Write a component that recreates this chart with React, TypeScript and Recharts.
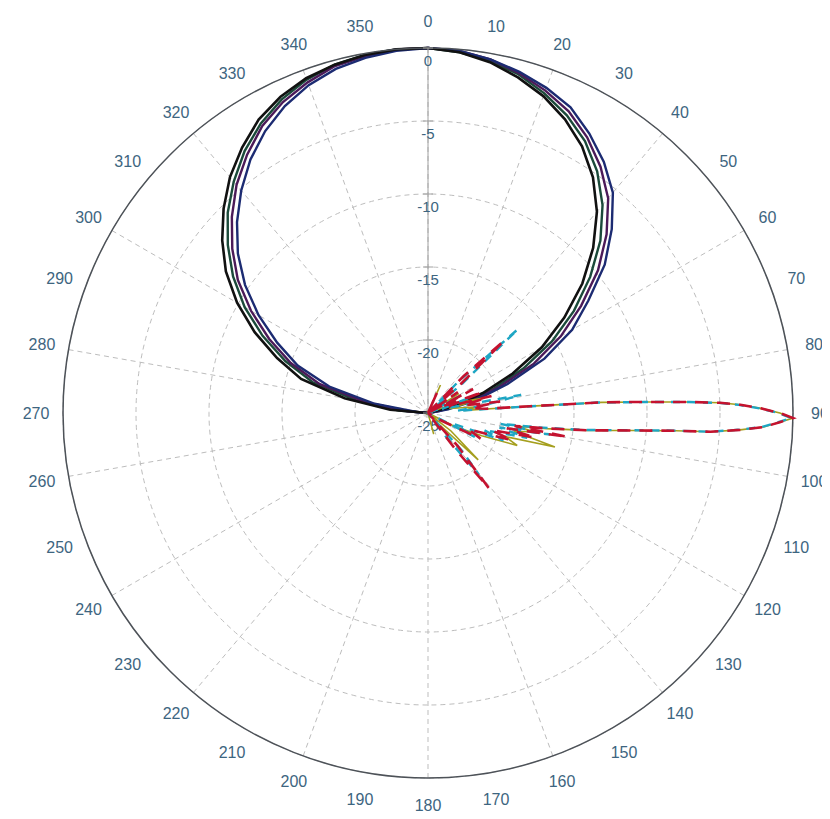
import React from 'react';
import { RadarChart, Radar, PolarGrid, PolarAngleAxis, PolarRadiusAxis } from 'recharts';

// angle labels every 10 deg, grid spokes every 20 deg, gain rings every 5 dB
const angleTicks = [0, 10, 20, 30, 40, 50, 60, 70, 80, 90, 100, 110, 120, 130, 140, 150, 160, 170,
  180, 190, 200, 210, 220, 230, 240, 250, 260, 270, 280, 290, 300, 310, 320, 330, 340, 350];
const spokeAngles = [0, 20, 40, 60, 80, 100, 120, 140, 160, 180, 200, 220, 240, 260, 280, 300, 320, 340];
const gainTicks = [-25, -20, -15, -10, -5, 0];

// broad lobe (dark traces)
const loopAngles = [0, 5, 10, 15, 20, 25, 30, 35, 40, 45, 50, 55, 60, 65, 70, 75, 80, 85,
  270, 275, 280, 285, 290, 295, 300, 305, 310, 315, 320, 325, 330, 335, 340, 345, 350, 355];
const loopBlack = [0, -0.2, -0.6, -1.2, -1.9, -2.8, -3.9, -5.3, -7.0, -9.0, -11.2, -13.6, -16.0, -18.6, -21.0, -23.2, -25, -25,
  -25, -22.4, -19.2, -16.0, -14.0, -11.9, -9.9, -8.1, -6.6, -5.2, -3.9, -2.8, -1.8, -1.1, -0.6, -0.3, -0.1, 0];
const loopNavy = [0, -0.1, -0.4, -0.8, -1.3, -1.9, -2.9, -4.0, -5.3, -7.2, -9.2, -11.6, -13.6, -16.2, -19.2, -21.6, -23.6, -25,
  -25, -24.2, -21.2, -18.0, -15.5, -13.6, -11.6, -9.7, -8.0, -6.5, -5.1, -3.8, -2.7, -1.8, -1.1, -0.6, -0.3, -0.1];
const loopPurple = [0, -0.1, -0.4, -0.9, -1.5, -2.2, -3.2, -4.4, -5.8, -7.7, -9.8, -12.2, -14.5, -17.0, -19.8, -22.2, -24.2, -25,
  -25, -23.6, -20.6, -17.3, -15.0, -13.0, -11.0, -9.1, -7.5, -6.0, -4.6, -3.4, -2.3, -1.5, -0.9, -0.4, -0.2, 0];
const loopGreen = [0, -0.2, -0.5, -1.0, -1.7, -2.5, -3.5, -4.8, -6.4, -8.3, -10.5, -12.8, -15.2, -17.8, -20.3, -22.6, -24.6, -25,
  -25, -23.0, -20.0, -16.8, -14.6, -12.5, -10.5, -8.7, -7.1, -5.6, -4.3, -3.1, -2.1, -1.3, -0.7, -0.3, -0.1, 0];

// narrow beam at 90 deg (olive / cyan / red traces)
const redAngles = [0, 20, 24, 28, 40, 44, 46.5, 48.5, 51, 55, 58, 62, 65, 69, 72, 75, 78, 81, 83.5, 85.8,
  86.2, 86.5, 87.1, 87.6, 88, 88.5, 89.2, 90, 90.8, 91.5, 92.4, 93.1, 93.8, 94.1, 94.9, 96.2, 97.5, 98.5, 99.7, 101,
  103, 105, 108, 112, 116, 120, 125, 135, 138, 141, 143, 146, 180, 270];
const redGain = [-25, -25, -23.5, -25, -25, -21.5, -17.8, -22, -25, -22.5, -25, -21.5, -24, -21, -23.5, -20.5, -22.5, -20, -22, -21,
  -18, -13, -10, -7, -5, -3.6, -2.2, -0.9, 0, -0.9, -2.0, -3.6, -5.6, -8, -11, -14, -17, -19, -15.3, -19.5,
  -17.5, -20.5, -19, -22, -21, -24, -25, -25, -22, -18.4, -22, -25, -25, -25];

const cyanAngles = [0, 40, 44, 47, 49.5, 52, 62, 65, 70, 74, 79, 82, 85.8, 86.2, 86.5, 87.1, 87.6, 88, 88.5, 89.2,
  90, 90.8, 91.5, 92.4, 93.1, 93.8, 94.1, 94.9, 96.2, 97.5, 98.5, 100, 101.5, 104, 107, 110, 113, 117, 120, 135,
  138, 140.5, 143, 146, 180, 270];
const cyanGain = [-25, -25, -22, -16.6, -22, -25, -22.5, -25, -22, -24, -18.5, -21, -23, -18.5, -13.3, -10.2, -7.1, -5.1, -3.7, -2.3,
  -1.0, -0.1, -1.0, -2.1, -3.7, -5.7, -8.1, -11.2, -14.2, -17.5, -20, -16.5, -20, -18, -21, -19.5, -23, -21.4, -25, -25,
  -21.5, -19.5, -23, -25, -25, -25];

const oliveAngles = [0, 20, 24, 28, 55, 58, 61, 70, 75, 78, 83, 85.8, 86.2, 86.5, 87.1, 87.6, 88, 88.5, 89.2, 90,
  90.8, 91.5, 92.4, 93.1, 93.8, 94.1, 94.9, 96.2, 97.5, 98.5, 100, 102, 105, 107, 110, 113, 117, 122, 128, 133,
  136, 140, 160, 165, 170, 270];
const oliveGain = [-25, -25, -22.9, -25, -25, -22.5, -25, -23, -21, -23.5, -21.5, -22.5, -18.2, -13.1, -10.1, -7.0, -5.0, -3.6, -2.2, -0.9,
  0, -0.9, -2.0, -3.6, -5.6, -8, -11, -14, -16.8, -19, -17.5, -19, -16, -19.5, -18.5, -21, -23, -25, -23, -20.3,
  -24, -25, -25, -23.5, -25, -25];

type Line = { key: string; gain: number[]; color: string; width: number; dash?: string };

// each layer is one polar chart with its own angle list; all share the same geometry
const layers: { id: string; angles: number[]; lines: Line[] }[] = [
  {
    id: 'loop',
    angles: loopAngles,
    lines: [
      { key: 'green', gain: loopGreen, color: '#1b4a3a', width: 2.4 },
      { key: 'purple', gain: loopPurple, color: '#4b1a58', width: 2.4 },
      { key: 'navy', gain: loopNavy, color: '#1c2b72', width: 2.4 },
      { key: 'black', gain: loopBlack, color: '#111111', width: 2.6 },
    ],
  },
  { id: 'olive', angles: oliveAngles, lines: [{ key: 'olive', gain: oliveGain, color: '#a59f1e', width: 1.6 }] },
  { id: 'cyan', angles: cyanAngles, lines: [{ key: 'cyan', gain: cyanGain, color: '#1ea6c4', width: 2.4, dash: '9 7' }] },
  { id: 'red', angles: redAngles, lines: [{ key: 'red', gain: redGain, color: '#c4122f', width: 2.6, dash: '13 9' }] },
];

const W = 822;
const H = 811;
const CX = 420;
const CY = 405;
const R = 365;

const labelColor = '#3d6580';
const font = '"Liberation Sans", Arial, sans-serif';

const AngleTick = (props: any) => {
  const { x, y, payload } = props;
  return (
    <text x={x} y={y} textAnchor="middle" dominantBaseline="central" fontSize={16} fontFamily={font} fill={labelColor}>
      {payload.value}
    </text>
  );
};

const GainTick = (props: any) => {
  const { x, y, payload } = props;
  return (
    <g>
      <line x1={x - 5} x2={x + 5} y1={y} y2={y} stroke="#a0a0a0" />
      <text x={x} y={y + 12} textAnchor="middle" dominantBaseline="central" fontSize={15} fontFamily={font} fill={labelColor}>
        {payload.value}
      </text>
    </g>
  );
};

const MarkTick = (props: any) => {
  const { x, y } = props;
  return <line x1={x - 5} x2={x + 5} y1={y} y2={y} stroke="#a0a0a0" />;
};

const chartProps = {
  width: W,
  height: H,
  cx: CX,
  cy: CY,
  innerRadius: 0,
  outerRadius: R,
  startAngle: 90,
  endAngle: -270,
  margin: { top: 0, right: 0, bottom: 0, left: 0 },
};

const Layer = ({ layer, withAxes }: { layer: (typeof layers)[number]; withAxes: boolean }) => {
  const data = layer.angles.map((angle, i) => {
    const row: Record<string, number> = { angle };
    layer.lines.forEach((l) => {
      row[l.key] = l.gain[i];
    });
    return row;
  });
  return (
    <RadarChart {...chartProps} data={data}>
      {withAxes && (
        <PolarGrid gridType="circle" polarAngles={spokeAngles.map((a) => 90 - a)} stroke="#bdbdbd" strokeDasharray="5 4" />
      )}
      <PolarAngleAxis
        dataKey="angle"
        type="number"
        domain={[0, 360]}
        ticks={angleTicks}
        tick={withAxes ? AngleTick : false}
        tickSize={27}
        tickLine={false}
        axisLineType="circle"
        axisLine={withAxes ? { stroke: '#4d5258', strokeWidth: 1.5 } : false}
      />
      {withAxes && (
        <PolarRadiusAxis
          radiusAxisId="down"
          angle={-90}
          type="number"
          domain={[-25, 0]}
          ticks={gainTicks}
          tickCount={6}
          tick={MarkTick}
          tickLine={false}
          axisLine={{ stroke: '#a0a0a0' }}
        />
      )}
      <PolarRadiusAxis
        angle={90}
        type="number"
        domain={[-25, 0]}
        ticks={gainTicks}
        tickCount={6}
        tick={withAxes ? GainTick : false}
        tickLine={false}
        axisLine={withAxes ? { stroke: '#a0a0a0' } : false}
      />
      {layer.lines.map((l) => (
        <Radar
          key={l.key}
          dataKey={l.key}
          stroke={l.color}
          strokeWidth={l.width}
          strokeDasharray={l.dash}
          fill="none"
          fillOpacity={0}
          dot={false}
          isAnimationActive={false}
        />
      ))}
    </RadarChart>
  );
};

const App = () => {
  return (
    <div style={{ position: 'relative', width: W, height: H }}>
      {layers.map((layer, i) => (
        <div key={layer.id} style={{ position: 'absolute', left: 0, top: 0 }}>
          <Layer layer={layer} withAxes={i === 0} />
        </div>
      ))}
    </div>
  );
};

export default App;
